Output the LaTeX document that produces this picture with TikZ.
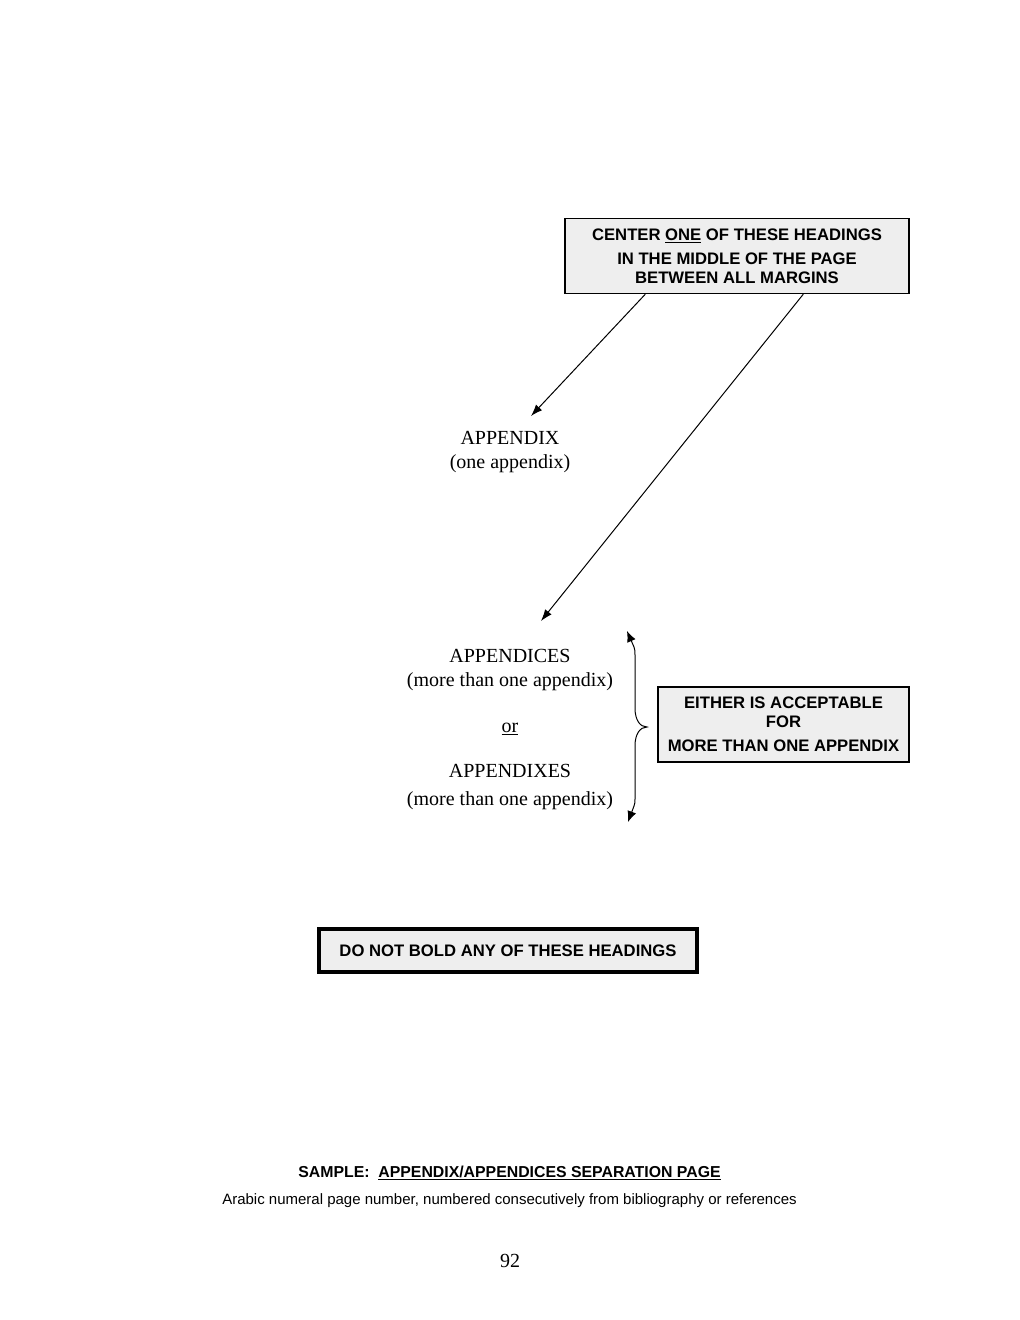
\documentclass[tikz,border=0pt]{standalone}
\usepackage{fontspec}
\setmainfont{Liberation Serif}
\setsansfont{Liberation Sans}
\usetikzlibrary{arrows.meta,calc}
\definecolor{boxgray}{HTML}{EEEEEE}
\tikzset{
  notebox/.style={draw, line width=0.9pt, fill=boxgray, align=center, inner sep=0pt,
    font=\sffamily\bfseries\fontsize{10}{11.4}\selectfont},
  serif/.style={anchor=base, inner sep=0pt, font=\fontsize{12}{14.4}\selectfont},
  pointer/.style={line width=0.6pt, -{Latex[length=7pt,width=5pt]}},
  bracetip/.style={line width=0.6pt, {Latex[length=6.5pt,width=5.5pt]}-{Latex[length=6.5pt,width=5.5pt]}},
}
\begin{document}
\begin{tikzpicture}[x=0.6pt,y=-0.6pt]
\useasboundingbox (0,0) rectangle (1020,1320);
% top box
\node[notebox, minimum width={344*0.6pt}, minimum height={75*0.6pt}] (top) at (737,256)
  {CENTER \underline{ONE} OF THESE HEADINGS\\[3pt]IN THE MIDDLE OF THE PAGE\\BETWEEN ALL MARGINS};
% headings
\node[serif] (app) at (510,444) {APPENDIX};
\node[serif] (appnote) at (510,468) {(one appendix)};
\node[serif] (apps) at (510,662) {APPENDICES};
\node[serif] (appsnote) at (510,686) {(more than one appendix)};
\node[serif] (or) at (510,732) {\underline{or}};
\node[serif] (appx) at (510,777) {APPENDIXES};
\node[serif] (appxnote) at (510,805) {(more than one appendix)};
% arrow ends
\coordinate (e1) at (531,416);
\coordinate (e2) at (541,621);
\draw[pointer] ($(top.south west)+(81,0)$) -- (e1);
\draw[pointer] ($(top.south west)+(239,0)$) -- (e2);
% brace
\coordinate (bt) at (627,631);
\coordinate (bb) at (628,822);
\draw[bracetip]
  (bt) -- (634,647) .. controls (635,650) .. (635,658) -- (635,708)
  .. controls (635,720) and (640,727) .. (647,727)
  .. controls (640,727) and (635,734) .. (635,746) -- (635,798)
  .. controls (635,803) .. (634,806) -- (bb);
% right box
\node[notebox, minimum width={251*0.6pt}, minimum height={75*0.6pt}] (either) at (783.5,724.5)
  {EITHER IS ACCEPTABLE\\FOR\\[3pt]MORE THAN ONE APPENDIX};
% bottom box
\node[notebox, line width=2pt, minimum width={378*0.6pt}, minimum height={43*0.6pt}] (nobold) at (508,950.5)
  {DO NOT BOLD ANY OF THESE HEADINGS};
% caption
\node[anchor=base, inner sep=0pt, font=\sffamily\bfseries\fontsize{9.5}{11}\selectfont] (cap) at (509.5,1177)
  {SAMPLE:\ \ \underline{APPENDIX/APPENDICES SEPARATION PAGE}};
\node[anchor=base, inner sep=0pt, font=\sffamily\fontsize{9}{11}\selectfont] (capnote) at (509.5,1204)
  {Arabic numeral page number, numbered consecutively from bibliography or references};
\node[serif] (pagenum) at (510,1267) {92};
\end{tikzpicture}
\end{document}
